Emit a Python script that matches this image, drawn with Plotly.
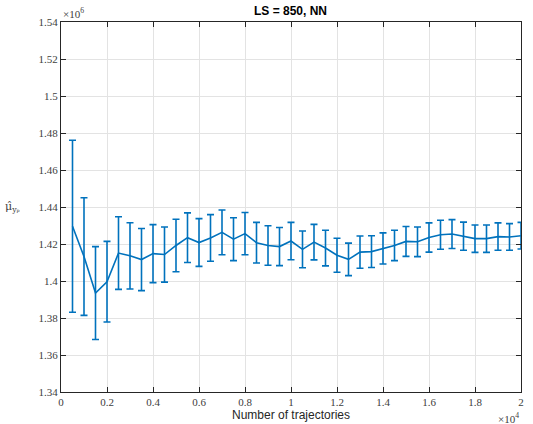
import plotly.graph_objects as go

n_traj = [500, 1000, 1500, 2000, 2500, 3000, 3500, 4000, 4500, 5000,
          5500, 6000, 6500, 7000, 7500, 8000, 8500, 9000, 9500, 10000,
          10500, 11000, 11500, 12000, 12500, 13000, 13500, 14000, 14500, 15000,
          15500, 16000, 16500, 17000, 17500, 18000, 18500, 19000, 19500, 20000]

# mean estimate (x 1e6)
mu_hat = [1.4296, 1.4132, 1.3935, 1.3996, 1.4151, 1.4136, 1.4116, 1.4148, 1.4143, 1.4192,
          1.4234, 1.4208, 1.4233, 1.4263, 1.4226, 1.4256, 1.4207, 1.4192, 1.4186, 1.4216,
          1.4171, 1.4210, 1.4178, 1.4139, 1.4117, 1.4156, 1.4159, 1.4176, 1.4192, 1.4214,
          1.4212, 1.4235, 1.4250, 1.4254, 1.4242, 1.4229, 1.4229, 1.4240, 1.4238, 1.4245]

# half-width of the error bar (x 1e6)
err = [0.0465, 0.0318, 0.0251, 0.0218, 0.0196, 0.0179, 0.0168, 0.0157, 0.0149, 0.0142,
       0.0134, 0.0129, 0.0126, 0.0121, 0.0116, 0.0114, 0.0110, 0.0107, 0.0103, 0.0101,
       0.0099, 0.0096, 0.0096, 0.0092, 0.0088, 0.0087, 0.0086, 0.0084, 0.0082, 0.0081,
       0.0080, 0.0079, 0.0078, 0.0078, 0.0076, 0.0074, 0.0074, 0.0074, 0.0072, 0.0072]

x_tickvals = [0, 2000, 4000, 6000, 8000, 10000, 12000, 14000, 16000, 18000, 20000]
x_ticktext = ["0", "0.2", "0.4", "0.6", "0.8", "1", "1.2", "1.4", "1.6", "1.8", "2"]
y_tickvals = [1.34, 1.36, 1.38, 1.40, 1.42, 1.44, 1.46, 1.48, 1.50, 1.52, 1.54]
y_ticktext = ["1.34", "1.36", "1.38", "1.4", "1.42", "1.44", "1.46", "1.48", "1.5", "1.52", "1.54"]

blue = "#0072BD"
serif = "Liberation Serif"
sans = "Liberation Sans, Arial, sans-serif"

fig = go.Figure()
fig.add_trace(go.Scatter(
    x=n_traj, y=mu_hat, mode="lines",
    line=dict(color=blue, width=1.6),
    error_y=dict(type="data", array=err, visible=True, color=blue,
                 thickness=1.6, width=3.5),
    showlegend=False,
))

axis_common = dict(
    showline=True, linecolor="#262626", linewidth=1, mirror="ticks",
    ticks="inside", ticklen=5, tickcolor="#262626", tickwidth=1,
    showgrid=True, gridcolor="#E3E3E3", gridwidth=1, zeroline=False,
    automargin=False,
    tickfont=dict(family=serif, size=11, color="#404040"),
)

fig.update_xaxes(range=[0, 20000], tickvals=x_tickvals, ticktext=x_ticktext,
                 title=dict(text="Number of trajectories", standoff=2,
                            font=dict(family=sans, size=12, color="#262626")),
                 **axis_common)
fig.update_yaxes(range=[1.34, 1.54], tickvals=y_tickvals, ticktext=y_ticktext,
                 **axis_common)

fig.update_layout(
    width=533, height=424,
    margin=dict(l=61, r=12, t=22, b=32),
    paper_bgcolor="white", plot_bgcolor="white",
    title=dict(text="<b>LS = 850, NN</b>", x=0.545, xanchor="center", y=0.985, yanchor="top",
               font=dict(family=sans, size=12, color="#000000")),
    annotations=[
        dict(text="×10<sup>6</sup>", xref="paper", yref="paper", x=0.0, y=1.0,
             xanchor="left", yanchor="bottom", showarrow=False,
             font=dict(family=serif, size=11, color="#404040")),
        dict(text="×10<sup>4</sup>", xref="paper", yref="paper", x=1.0, y=-0.045,
             xanchor="right", yanchor="top", showarrow=False,
             font=dict(family=serif, size=11, color="#404040")),
        dict(text="μ̂<sub>yₚ</sub>", xref="paper", yref="paper", x=-0.105, y=0.5,
             xanchor="center", yanchor="middle", showarrow=False,
             font=dict(family="DejaVu Serif", size=11, color="#404040")),
    ],
)

fig.write_html("out.html")
